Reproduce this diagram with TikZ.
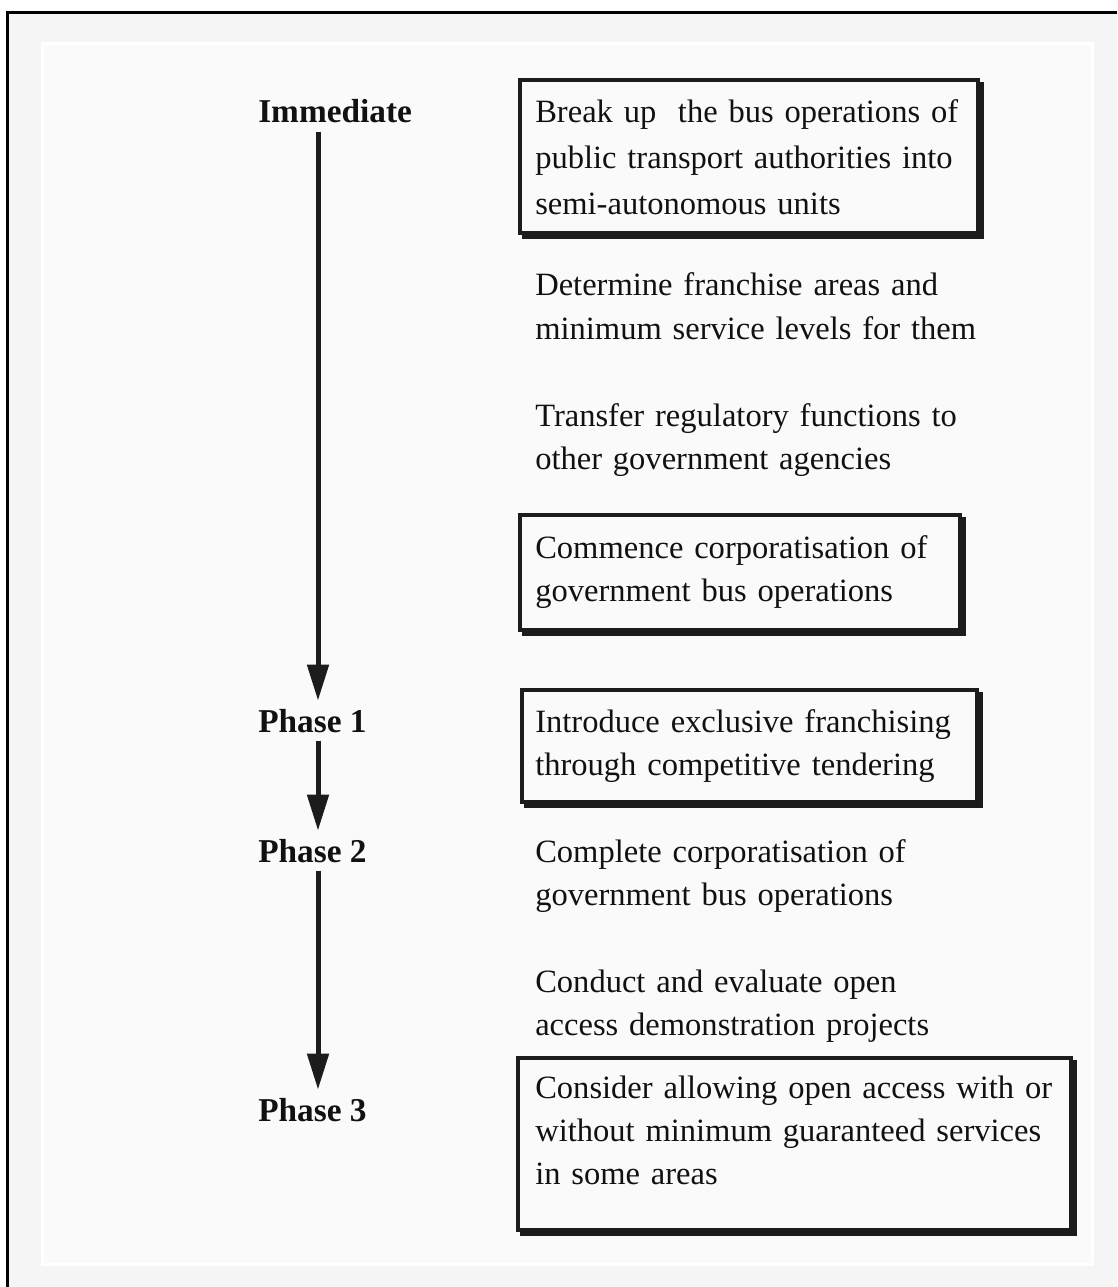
\documentclass[tikz,border=0pt]{standalone}
\usepackage{fontspec}
\setmainfont{Liberation Serif}
\usetikzlibrary{arrows.meta}
\definecolor{outerbg}{HTML}{F5F5F5}
\definecolor{panelbg}{HTML}{FAFAFA}
\definecolor{ink}{HTML}{111111}
\definecolor{dark}{HTML}{1C1C1C}
\begin{document}
\begin{tikzpicture}[x=0.75pt,y=-0.75pt,
  txt/.style={anchor=base west, inner sep=0pt, text width=420pt, align=left, text=ink, font=\fontsize{24.4}{32.5}\selectfont},
  lbl/.style={anchor=base west, inner sep=0pt, text=ink, font=\fontsize{25}{30}\selectfont\bfseries},
  stepbox/.style={draw=dark, line width=3pt, fill=panelbg,
    preaction={draw=dark, fill=dark, line width=3pt, transform canvas={shift={(4,4)}}}},
  timeline/.style={draw=dark, line width=3.75pt, -{Triangle[length=27pt,width=15.75pt]}, shorten <=6pt, shorten >=6pt}
]
\useasboundingbox (0,0) rectangle (1117,1287);
\fill[white] (0,0) rectangle (1117,1287);
\fill[outerbg] (7,13) rectangle (1117,1287);
\draw[black, line width=2.25pt] (7,1287) -- (7,13) -- (1117,13);
\draw[white, line width=2.25pt, fill=panelbg] (42,44) rectangle (1092,1264);

% boxes
\draw[stepbox] (520,80) rectangle (978,233);
\draw[stepbox] (520,515) rectangle (960,630);
\draw[stepbox] (522,690) rectangle (977,802);
\draw[stepbox] (518,1058) rectangle (1071,1230);

% texts
\node[txt, font=\fontsize{24.4}{34.5}\selectfont] (t1) at (535,123) {Break up\ \ the bus operations of\\public transport authorities into\\semi-autonomous units};
\node[txt] (t2) at (535,296) {Determine franchise areas and\\minimum service levels for them};
\node[txt] (t3) at (535,426) {Transfer regulatory functions to\\other government agencies};
\node[txt] (t4) at (535,558) {Commence corporatisation of\\government bus operations};
\node[txt] (t5) at (535,732) {Introduce exclusive franchising\\through competitive tendering};
\node[txt] (t6) at (535,862) {Complete corporatisation of\\government bus operations};
\node[txt] (t7) at (535,992) {Conduct and evaluate open\\access demonstration projects};
\node[txt] (t8) at (535,1098) {Consider allowing open access with or\\without minimum guaranteed services\\in some areas};

% phase labels
\node[lbl] (imm) at (258,123) {Immediate};
\node[lbl] (p1) at (258,732) {Phase 1};
\node[lbl] (p2) at (258,862) {Phase 2};
\node[lbl] (p3) at (258,1121) {Phase 3};
\coordinate (ax) at (318,0);

\draw[timeline] (imm.south -| ax) -- (p1.north -| ax);
\draw[timeline] (p1.south -| ax) -- (p2.north -| ax);
\draw[timeline] (p2.south -| ax) -- (p3.north -| ax);
\end{tikzpicture}
\end{document}
